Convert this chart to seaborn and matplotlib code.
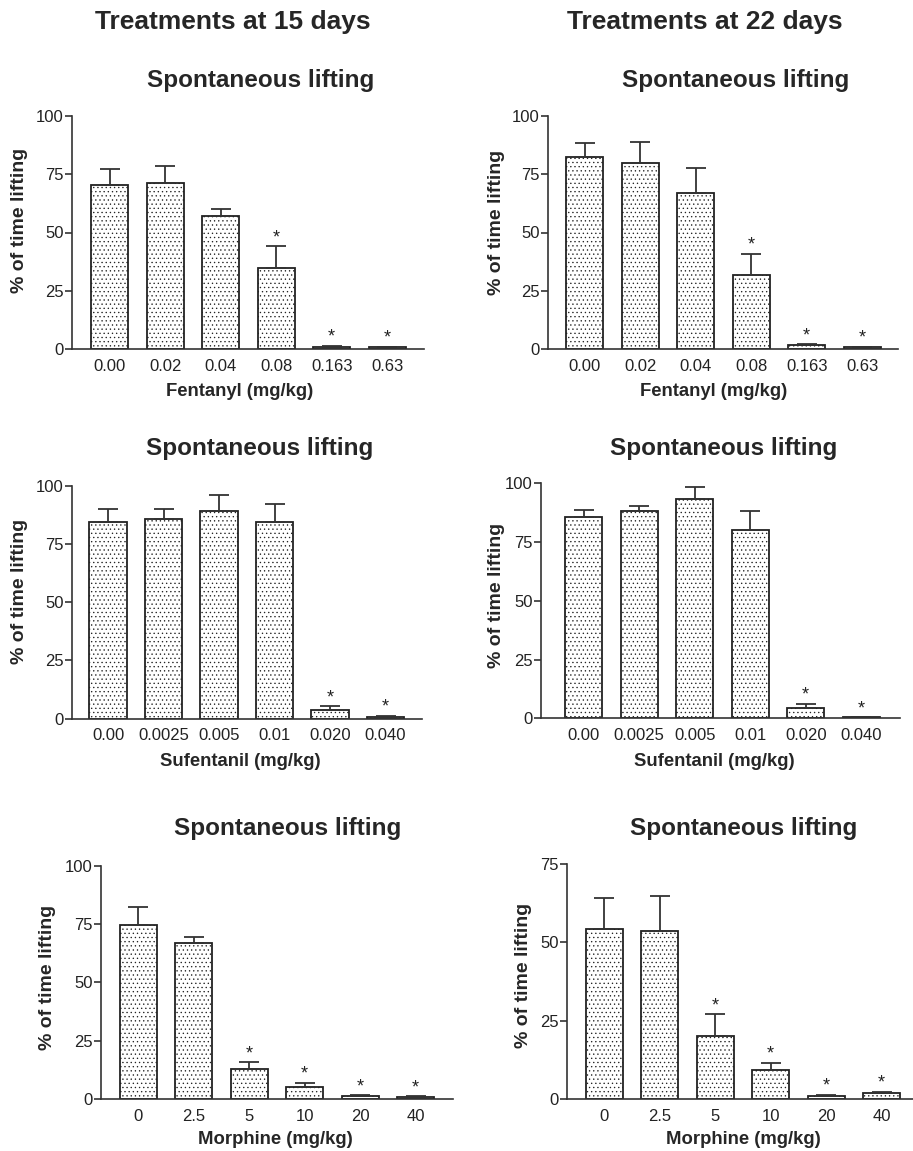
import numpy as np
import seaborn as sns
import matplotlib.pyplot as plt

# values (mean and upper SEM)
fentanyl_doses = ["0.00", "0.02", "0.04", "0.08", "0.163", "0.63"]
sufentanil_doses = ["0.00", "0.0025", "0.005", "0.01", "0.020", "0.040"]
morphine_doses = ["0", "2.5", "5", "10", "20", "40"]

fent15_mean = [70.3, 71.2, 57.1, 34.8, 1.0, 0.7]
fent15_sem = [7.0, 7.3, 3.1, 9.4, 0.4, 0.2]
fent22_mean = [82.3, 79.7, 66.8, 31.8, 1.6, 0.7]
fent22_sem = [6.2, 9.1, 10.7, 9.0, 0.4, 0.2]

sufe15_mean = [84.3, 85.6, 89.3, 84.4, 3.6, 0.7]
sufe15_sem = [5.8, 4.5, 6.6, 7.6, 1.7, 0.6]
sufe22_mean = [85.7, 88.1, 93.3, 80.1, 4.3, 0.4]
sufe22_sem = [3.1, 2.1, 5.0, 8.2, 1.9, 0.1]

morph15_mean = [74.4, 66.9, 13.0, 5.0, 1.4, 0.8]
morph15_sem = [7.9, 2.7, 2.7, 2.0, 0.3, 0.3]
morph22_mean = [54.3, 53.5, 20.2, 9.2, 1.0, 1.8]
morph22_sem = [9.7, 11.2, 6.8, 2.3, 0.4, 0.5]

fent_signif = [0, 0, 0, 1, 1, 1]
sufe_signif = [0, 0, 0, 0, 1, 1]
morph_signif = [0, 0, 1, 1, 1, 1]

sns.set_style("ticks")
plt.rcParams['font.family'] = ['Liberation Sans', 'DejaVu Sans']
plt.rcParams['hatch.linewidth'] = 0.45

W, H = 913, 1151
fig = plt.figure(figsize=(W / 100, H / 100), dpi=100)

# (doses, mean, sem, signif, xlabel, ymax, [left, right, top, bottom] in px, xlim left pad,
#  title xy, ylabel xy, xlabel xy)
panels = [
    (fentanyl_doses, fent15_mean, fent15_sem, fent_signif, "Fentanyl (mg/kg)", 100,
     [72, 424, 116, 349], 0.68, (261, 80), (19, 220), (240, 391)),
    (fentanyl_doses, fent22_mean, fent22_sem, fent_signif, "Fentanyl (mg/kg)", 100,
     [548, 898, 116, 349], 0.66, (736, 80), (496, 222), (714, 391)),
    (sufentanil_doses, sufe15_mean, sufe15_sem, sufe_signif, "Sufentanil (mg/kg)", 100,
     [72, 422, 485.7, 718.7], 0.65, (260, 448), (19, 591), (240, 762)),
    (sufentanil_doses, sufe22_mean, sufe22_sem, sufe_signif, "Sufentanil (mg/kg)", 100,
     [541, 900, 483.3, 718.3], 0.77, (724, 448), (496, 595), (714, 762)),
    (morphine_doses, morph15_mean, morph15_sem, morph_signif, "Morphine (mg/kg)", 100,
     [101, 453, 865.7, 1099], 0.67, (288, 829), (47, 977), (275, 1139)),
    (morphine_doses, morph22_mean, morph22_sem, morph_signif, "Morphine (mg/kg)", 75,
     [567, 919.5, 864, 1099], 0.67, (744, 829), (523, 975), (743, 1139)),
]

for doses, mean, sem, signif, xlab, ymax, box, pad, tpos, ypos, xpos in panels:
    l, r, t, b = box
    ax = fig.add_axes([l / W, 1 - b / H, (r - l) / W, (b - t) / H])
    sns.barplot(x=doses, y=mean, order=doses, color="white", saturation=1,
                edgecolor="#222222", linewidth=1.3, hatch="....", width=0.67,
                errorbar=None, ax=ax)
    xs = np.arange(len(doses))
    ax.errorbar(xs, mean, yerr=[np.zeros(len(sem)), sem], fmt="none",
                ecolor="#333333", elinewidth=1.3, capsize=7, capthick=1.3, zorder=1)
    for x, m, s, sig in zip(xs, mean, sem, signif):
        if sig:
            ax.annotate("*", (x, m + s), xytext=(0, 0), textcoords="offset points",
                        ha="center", va="bottom", fontsize=13, color="#222222")
    # spacing in px between bar centers is ~55.5
    span = (r - l) / 55.5
    ax.set_xlim(-pad, -pad + span)
    ax.set_ylim(0, ymax)
    ax.set_yticks(np.arange(0, ymax + 1, 25))
    ax.tick_params(axis="y", length=5, width=1.1, pad=1, labelsize=12, colors="#222222")
    ax.tick_params(axis="x", length=0, pad=7, labelsize=12, colors="#222222")
    for side in ["top", "right"]:
        ax.spines[side].set_visible(False)
    for side in ["left", "bottom"]:
        ax.spines[side].set_color("#333333")
        ax.spines[side].set_linewidth(1.2)
    ax.set_xlabel("")
    ax.set_ylabel("")
    fig.text(tpos[0] / W, 1 - tpos[1] / H, "Spontaneous lifting", ha="center", va="center",
             fontsize=17.5, fontweight="bold")
    fig.text(ypos[0] / W, 1 - ypos[1] / H, "% of time lifting", ha="center", va="center",
             rotation=90, fontsize=14, fontweight="bold")
    fig.text(xpos[0] / W, 1 - xpos[1] / H, xlab, ha="center", va="center",
             fontsize=13.3, fontweight="bold")

fig.text(233 / W, 1 - 22 / H, "Treatments at 15 days", ha="center", va="center",
         fontsize=19, fontweight="bold")
fig.text(705 / W, 1 - 22 / H, "Treatments at 22 days", ha="center", va="center",
         fontsize=19, fontweight="bold")

plt.savefig("out.png", dpi=100)
